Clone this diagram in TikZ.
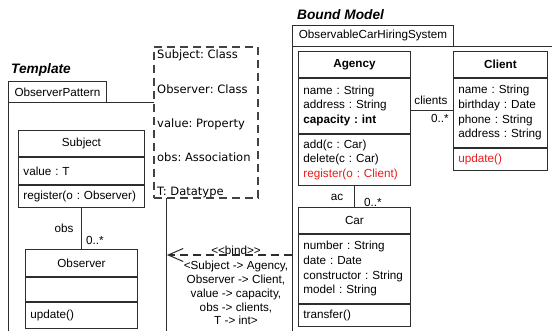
\documentclass[tikz,border=0pt]{standalone}
\usepackage{fontspec}
\setmainfont{Liberation Sans}
\newfontfamily\dvfont{DejaVu Sans}
\usetikzlibrary{positioning,arrows.meta}
\definecolor{umlred}{RGB}{235,25,25}
\definecolor{umlline}{RGB}{45,45,45}
\newcommand{\umlsize}{\fontsize{11.7}{14.6}\selectfont}
\frenchspacing

\tikzset{
umlhead/.style={draw=umlline, line width=0.9pt, anchor=north west, inner xsep=5pt, inner ysep=0pt, align=center, font=\umlsize},
umlpart/.style={umlhead, align=left},
pkgtab/.style={draw=umlline, line width=0.9pt, anchor=north west, inner xsep=5pt, inner ysep=0pt, font=\umlsize},
pkgbody/.style={draw=umlline, line width=0.9pt, anchor=north west},
parambox/.style={draw=umlline!90, fill=white, line width=1.6pt, dash pattern=on 8pt off 5pt, anchor=north west, minimum width=104pt, minimum height=151pt, inner sep=0pt},
paramtext/.style={anchor=north west, inner sep=0pt, align=left, font=\dvfont\fontsize{11.5}{34.3}\selectfont},
assoc/.style={draw=umlline, line width=0.9pt},
bindarrow/.style={draw=umlline, line width=1.6pt, dash pattern=on 8pt off 5pt, -{Straight Barb[length=15pt,width=13pt,line width=1pt]}},
lbl/.style={inner sep=0pt, font=\umlsize},
pkgtitle/.style={anchor=west, inner sep=0pt, font=\bfseries\itshape\fontsize{13.7}{16}\selectfont}
}

\begin{document}
\begin{tikzpicture}[x=1pt,y=-1pt]
\useasboundingbox (0,0) rectangle (552,330);
\clip (0,0) rectangle (552,330);

% packages
\node[pkgtitle] (tmpltitle) at (11,70) {Template};
\node[pkgtab, minimum width=98pt, minimum height=21pt] (tmpltab) at (8,81) {ObserverPattern};
\node[pkgbody, minimum width=158pt, minimum height=260pt] (tmpl) at (8,102) {};
\node[pkgtitle] (boundtitle) at (297,15) {Bound Model};
\node[pkgtab, minimum width=161pt, minimum height=21pt] (boundtab) at (292,25) {ObservableCarHiringSystem};
\node[pkgbody, minimum width=300pt, minimum height=320pt] (bound) at (292,46) {};

% template parameters
\node[parambox] (params) at (153,46) {};
\node[paramtext] (paramlist) at (157,49.8) {Subject: Class\\Observer: Class\\value: Property\\obs: Association\\T: Datatype};

% template classes
\node[umlhead, text width=116pt, minimum height=26pt] (subjhd) at (18,130) {Subject};
\node[umlpart, text width=116pt, minimum height=27pt] (subjat) at (subjhd.south west) {value : T};
\node[umlpart, text width=116pt, minimum height=22pt] (subjop) at (subjat.south west) {register(o : Observer)};

\node[umlhead, text width=102pt, minimum height=27pt] (obshd) at (25,249) {Observer};
\node[umlpart, text width=102pt, minimum height=24pt] (obsat) at (obshd.south west) {};
\node[umlpart, text width=102pt, minimum height=26pt] (obsop) at (obsat.south west) {update()};

\draw[assoc] (subjop.south) -- (obshd.north);
\node[lbl] (obslbl) at (64,228) {obs};
\node[lbl] (obsmult) at (95,240) {0..*};

% bound classes
\node[umlhead, font=\umlsize\bfseries, text width=102pt, minimum height=26pt] (aghd) at (298,51) {Agency};
\node[umlpart, text width=102pt, minimum height=55pt] (agat) at (aghd.south west) {name : String\\address : String\\\textbf{capacity : int}};
\node[umlpart, text width=102pt, minimum height=51pt] (agop) at (agat.south west) {add(c : Car)\\delete(c : Car)\\\textcolor{umlred}{register(o : Client)}};

\node[umlhead, font=\umlsize\bfseries, text width=84pt, minimum height=26pt] (clhd) at (453,51) {Client};
\node[umlpart, text width=84pt, minimum height=69pt] (clat) at (clhd.south west) {name : String\\birthday : Date\\phone : String\\address : String};
\node[umlpart, text width=84pt, minimum height=22pt] (clop) at (clat.south west) {\textcolor{umlred}{update()}};

\node[umlhead, text width=102pt, minimum height=26pt] (carhd) at (298,207) {Car};
\node[umlpart, text width=102pt, minimum height=69pt] (carat) at (carhd.south west) {number : String\\date : Date\\constructor : String\\model : String};
\node[umlpart, text width=102pt, minimum height=22pt] (carop) at (carat.south west) {transfer()};

\coordinate (clienty) at (0,110);
\draw[assoc] (agat.east |- clienty) -- (clat.west |- clienty);
\node[lbl] (clientslbl) at (431,100) {clients};
\node[lbl] (clientsmult) at (440,118) {0..*};

\draw[assoc] (agop.south) -- (carhd.north);
\node[lbl] (aclbl) at (337,197) {ac};
\node[lbl] (acmult) at (373,202) {0..*};

% binding
\coordinate (bindy) at (0,255);
\draw[bindarrow] (bound.west |- bindy) -- (tmpl.east |- bindy);
\node[lbl] (bindlbl) at (236,250) {{<}{<}bind{>}{>}};
\node[lbl, align=center, font=\fontsize{11.7}{13.9}\selectfont] (bindmap) at (236,293) {{<}Subject -{>} Agency,\\Observer -{>} Client,\\value -{>} capacity,\\obs -{>} clients,\\T -{>} int{>}};
\end{tikzpicture}
\end{document}
